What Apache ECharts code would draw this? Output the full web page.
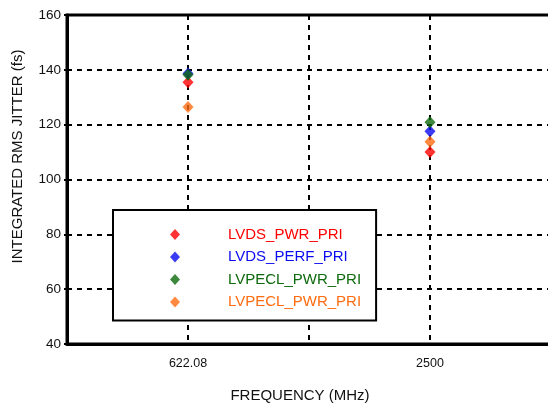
<!DOCTYPE html>
<html>
<head>
<meta charset="utf-8">
<script src="https://cdn.jsdelivr.net/npm/echarts@6/dist/echarts.min.js"></script>
<style>html,body{margin:0;padding:0;background:#fff}#c{width:548px;height:407px}</style>
</head>
<body>
<div id="c"></div>
<script>
var categories = ['', '622.08', '', '2500', ''];
var freqs = ['622.08', '2500'];
var seriesNames = ['LVDS_PWR_PRI', 'LVDS_PERF_PRI', 'LVPECL_PWR_PRI', 'LVPECL_PWR_PRI '];
var lvdsPwr = [135.5, 110];
var lvdsPerf = [138.7, 117.6];
var lvpeclPwr = [138.2, 120.9];
var lvpeclPwr2 = [126.4, 113.8];
var yTicks = [40, 60, 80, 100, 120, 140, 160];
var colors = ['#ff0000', '#0a0af0', '#0c6a0c', '#ff6c10'];

var allValues = [lvdsPwr, lvdsPerf, lvpeclPwr, lvpeclPwr2];
var series = allValues.map(function (vals, i) {
  return {
    name: seriesNames[i],
    type: 'scatter',
    symbol: 'diamond',
    symbolSize: [11, 12],
    itemStyle: { color: colors[i] },
    data: freqs.map(function (f, j) { return [f, vals[j]]; })
  };
});

var chart = echarts.init(document.getElementById('c'));
chart.setOption({
  animation: false,
  textStyle: { fontFamily: 'Liberation Sans, Arial, sans-serif' },
  grid: { left: 67, width: 484, top: 15, bottom: 63, outerBoundsMode: 'none', containLabel: false, show: true, borderColor: '#000', borderWidth: 3, backgroundColor: 'transparent' },
  xAxis: {
    type: 'category',
    data: categories,
    boundaryGap: false,
    name: 'FREQUENCY (MHz)',
    nameLocation: 'middle',
    nameGap: 44,
    nameTextStyle: { fontSize: 15, color: '#111', padding: [0, 18, 0, 0] },
    axisLine: { lineStyle: { color: '#000', width: 3 } },
    axisTick: { show: false },
    axisLabel: { interval: 0, fontSize: 12.5, color: '#111', margin: 13 },
    splitLine: { show: true, lineStyle: { color: '#000', width: 2, type: [5, 5] } }
  },
  yAxis: {
    type: 'value',
    min: yTicks[0],
    max: yTicks[yTicks.length - 1],
    interval: 20,
    name: 'INTEGRATED RMS JITTER (fs)',
    nameLocation: 'middle',
    nameGap: 42,
    nameTextStyle: { fontSize: 15, color: '#111', padding: [0, 0, 0, 46] },
    axisLine: { show: true, lineStyle: { color: '#000', width: 3 } },
    axisTick: { show: true, length: 3, lineStyle: { color: '#000', width: 2 } },
    axisLabel: { fontSize: 13.5, color: '#111', margin: 6 },
    splitLine: { show: true, lineStyle: { color: '#000', width: 2, type: [5, 5] } }
  },
  legend: {
    orient: 'vertical',
    left: 113,
    top: 210,
    padding: [17, 15, 11, 57],
    itemGap: 7.5,
    itemWidth: 10,
    itemHeight: 11,
    backgroundColor: '#fff',
    borderColor: '#000',
    borderWidth: 2,
    data: seriesNames.map(function (n, i) {
      return { name: n, icon: 'diamond', textStyle: { color: colors[i] } };
    }),
    formatter: function (n) { return n.trim(); },
    textStyle: { fontSize: 15, padding: [0, 0, 0, 43] }
  },
  series: series
});
</script>
</body>
</html>
